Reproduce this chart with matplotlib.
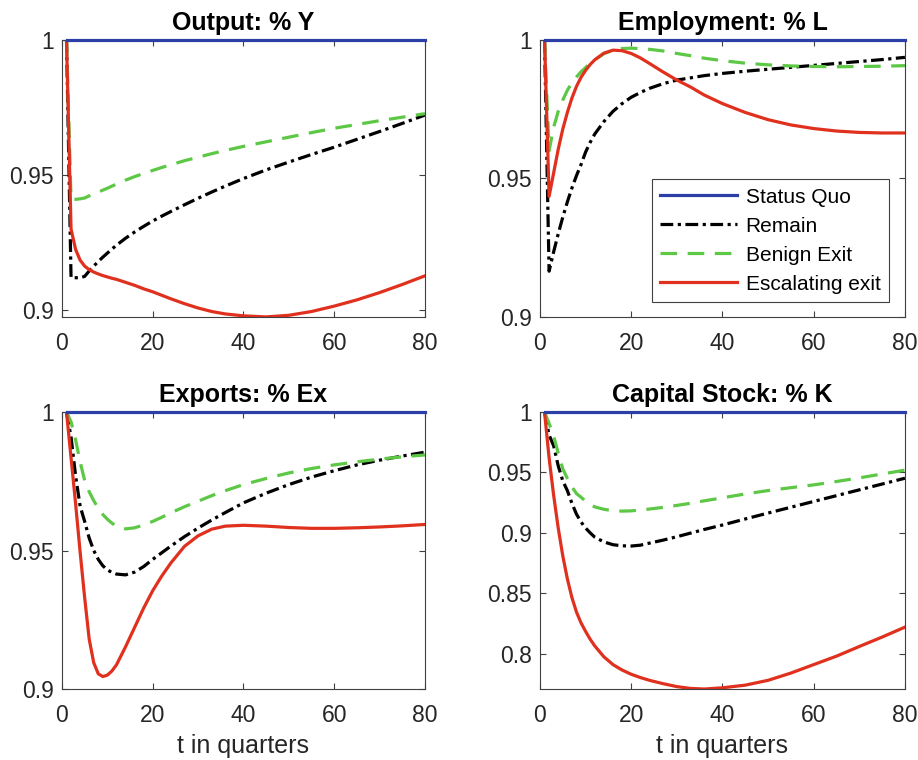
import matplotlib
matplotlib.use("Agg")
import matplotlib.pyplot as plt
from matplotlib.ticker import FormatStrFormatter

plt.rcParams['font.family'] = ['Liberation Sans', 'DejaVu Sans']

# quarters after the shock
t = [1, 2, 3, 4, 5, 6, 7, 8, 9, 10, 11, 12, 14, 16, 18, 20, 22, 24, 27, 30,
     33, 36, 40, 45, 50, 55, 60, 65, 70, 75, 80]

status_quo = [1.0] * len(t)

# output Y
y_remain = [1.0, 0.912, 0.912, 0.912, 0.9125, 0.9145, 0.9163, 0.918, 0.9196,
            0.9211, 0.9226, 0.924, 0.9266, 0.9289, 0.931, 0.933, 0.9348,
            0.9365, 0.939, 0.9414, 0.9437, 0.9459, 0.9487, 0.9519, 0.9548,
            0.9576, 0.9603, 0.9632, 0.9661, 0.9691, 0.9722]
y_benign = [1.0, 0.941, 0.941, 0.9412, 0.9415, 0.9423, 0.943, 0.9437, 0.9444,
            0.9451, 0.9459, 0.9466, 0.9481, 0.9494, 0.9506, 0.9517, 0.9528,
            0.9538, 0.9553, 0.9566, 0.9579, 0.9591, 0.9606, 0.9623, 0.964,
            0.9657, 0.9673, 0.9687, 0.9701, 0.9714, 0.9727]
y_escal = [1.0, 0.930, 0.9225, 0.9185, 0.9163, 0.915, 0.9141, 0.9134, 0.9128,
           0.9123, 0.9118, 0.9114, 0.9103, 0.9092, 0.9079, 0.9068, 0.9055,
           0.9042, 0.9024, 0.9008, 0.8995, 0.8986, 0.8979, 0.8975, 0.8981,
           0.8995, 0.9015, 0.9038, 0.9065, 0.9095, 0.9127]

# employment L
l_remain = [1.0, 0.9165, 0.9235, 0.930, 0.936, 0.9415, 0.9465, 0.951, 0.955,
            0.9595, 0.963, 0.966, 0.9705, 0.9742, 0.977, 0.9793, 0.981,
            0.9825, 0.9842, 0.9855, 0.9863, 0.9871, 0.9879, 0.9887, 0.9894,
            0.9901, 0.9908, 0.9915, 0.9922, 0.9929, 0.9937]
l_benign = [1.0, 0.960, 0.9685, 0.9742, 0.9783, 0.9818, 0.9845, 0.9866, 0.9885,
            0.990, 0.9915, 0.9928, 0.995, 0.9963, 0.9969, 0.997, 0.9969,
            0.9966, 0.996, 0.9951, 0.9943, 0.9934, 0.9925, 0.9916, 0.991,
            0.9906, 0.9904, 0.9903, 0.9904, 0.9905, 0.9907]
l_escal = [1.0, 0.9435, 0.952, 0.9605, 0.9678, 0.9738, 0.979, 0.9832, 0.9865,
           0.989, 0.9911, 0.9928, 0.9952, 0.9963, 0.9961, 0.9951, 0.9935,
           0.9915, 0.9884, 0.9855, 0.983, 0.9801, 0.977, 0.9738, 0.9712,
           0.9693, 0.968, 0.9671, 0.9666, 0.9664, 0.9664]

# exports Ex
ex_remain = [1.0, 0.991, 0.977, 0.966, 0.9605, 0.9545, 0.950, 0.9468, 0.9445,
             0.943, 0.9421, 0.9415, 0.9412, 0.9422, 0.9442, 0.9468, 0.9492,
             0.9516, 0.955, 0.9581, 0.961, 0.9637, 0.9672, 0.9707, 0.9738,
             0.9765, 0.9788, 0.9809, 0.9826, 0.9841, 0.9855]
ex_benign = [1.0, 0.9965, 0.990, 0.982, 0.9753, 0.9712, 0.968, 0.9652, 0.963,
             0.9613, 0.9599, 0.9588, 0.9578, 0.9582, 0.9592, 0.9605, 0.962,
             0.9636, 0.9658, 0.9678, 0.9698, 0.9716, 0.9738, 0.976, 0.978,
             0.9796, 0.9809, 0.982, 0.983, 0.9838, 0.9845]
ex_escal = [1.0, 0.9835, 0.967, 0.9495, 0.933, 0.918, 0.9095, 0.9055, 0.9045,
            0.905, 0.9065, 0.9087, 0.9152, 0.9222, 0.9292, 0.9355, 0.9408,
            0.9455, 0.9515, 0.9553, 0.9577, 0.9588, 0.9591, 0.9588, 0.9583,
            0.958, 0.958, 0.9582, 0.9585, 0.9589, 0.9594]

# capital stock K
k_remain = [1.0, 0.981, 0.972, 0.9555, 0.943, 0.935, 0.9245, 0.9155, 0.909,
            0.904, 0.9, 0.8965, 0.8925, 0.8902, 0.8893, 0.8891, 0.8898,
            0.8915, 0.894, 0.8968, 0.8998, 0.9028, 0.9065, 0.9115, 0.9164,
            0.9212, 0.926, 0.9308, 0.9356, 0.9404, 0.9452]
k_benign = [1.0, 0.9905, 0.980, 0.966, 0.953, 0.945, 0.938, 0.9325, 0.9295,
            0.9262, 0.9236, 0.9215, 0.9195, 0.9183, 0.918, 0.9182, 0.9189,
            0.9197, 0.9211, 0.9227, 0.9245, 0.9265, 0.929, 0.9322, 0.935,
            0.9374, 0.9397, 0.9425, 0.9455, 0.9487, 0.9519]
k_escal = [1.0, 0.962, 0.931, 0.904, 0.881, 0.862, 0.8465, 0.8345, 0.8255,
           0.8185, 0.812, 0.8065, 0.7975, 0.791, 0.7865, 0.783, 0.7803,
           0.778, 0.7752, 0.7728, 0.7713, 0.7708, 0.7718, 0.774, 0.778,
           0.784, 0.791, 0.798, 0.806, 0.8138, 0.822]

titles = ['Output: % Y', 'Employment: % L', 'Exports: % Ex', 'Capital Stock: % K']
panels = [(y_remain, y_benign, y_escal), (l_remain, l_benign, l_escal),
          (ex_remain, ex_benign, ex_escal), (k_remain, k_benign, k_escal)]
yticks = [[0.9, 0.95, 1], [0.9, 0.95, 1], [0.9, 0.95, 1],
          [0.8, 0.85, 0.9, 0.95, 1]]
labels = ['Status Quo', 'Remain', 'Benign Exit', 'Escalating exit']

c_blue = '#2b3fa6'
c_red = '#e0301e'
c_green = '#5cc845'
lw = 2.3

# axes boxes [left, bottom, width, height]
boxes = [[0.0675, 0.583, 0.3954, 0.3645], [0.5882, 0.583, 0.3976, 0.3645],
         [0.0675, 0.0934, 0.3954, 0.3645], [0.5882, 0.0934, 0.3976, 0.3645]]

fig = plt.figure(figsize=(9.18, 7.6), dpi=100)

for i in range(4):
    ax = fig.add_axes(boxes[i])
    rem, ben, esc = panels[i]
    ax.plot(t, status_quo, color=c_blue, lw=lw, clip_on=False, zorder=5,
            label=labels[0])
    ax.plot(t, rem, color='black', lw=lw, dashes=(4, 1.4, 1, 1.4),
            label=labels[1])
    ax.plot(t, ben, color=c_green, lw=lw, dashes=(5.2, 3.3), label=labels[2])
    ax.plot(t, esc, color=c_red, lw=lw, label=labels[3])

    ax.set_xlim(0, 80)
    if i in (1, 2):
        ax.set_ylim(0.9, 1)
    else:
        ax.set_ylim(min(min(rem), min(ben), min(esc)), 1)
    ax.set_xticks([0, 20, 40, 60, 80])
    ax.set_yticks(yticks[i])
    ax.yaxis.set_major_formatter(FormatStrFormatter('%g'))
    ax.tick_params(direction='in', top=True, right=True, length=4.5,
                   width=0.8, color='#404040', labelsize=16.5,
                   labelcolor='#262626')
    ax.tick_params(axis='x', pad=11)
    ax.tick_params(axis='y', pad=6)
    for s in ax.spines.values():
        s.set_color('#404040')
        s.set_linewidth(0.8)
    ax.set_title(titles[i], fontsize=18, fontweight='bold', pad=7)
    if i >= 2:
        ax.set_xlabel('t in quarters', fontsize=18, color='#262626',
                      labelpad=5)
    if i == 1:
        leg = ax.legend(loc='lower right', bbox_to_anchor=(0.956, 0.054),
                        borderaxespad=0, fontsize=15, handlelength=3.7,
                        handletextpad=0.4, labelspacing=0.48, borderpad=0.4,
                        fancybox=False, framealpha=1, edgecolor='#404040')
        leg.get_frame().set_linewidth(0.8)

fig.savefig('out.png', dpi=100)
